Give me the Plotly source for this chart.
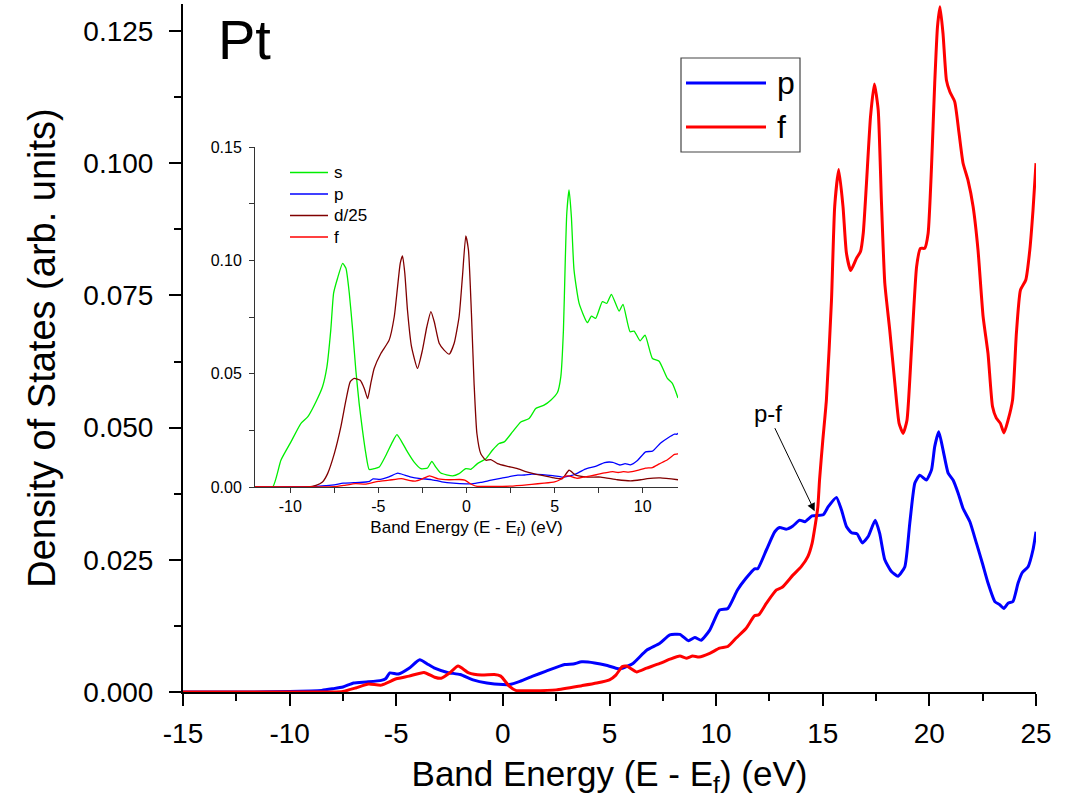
import plotly.graph_objects as go

# ---------------- data ----------------
# Pt partial densities of states, main panel (p and f)
energy_pf = [-15.0, -12.0, -10.0, -9.0, -8.5, -8.0, -7.5, -7.0, -6.4, -5.7, -5.5, -5.3, -4.9,
             -4.4, -3.9, -3.5, -3.2, -2.6, -2.0, -1.4, -0.75, 0.0, 0.3, 0.8, 1.4, 2.0, 2.9,
             3.3, 3.7, 4.3, 4.9, 5.4, 5.6, 6.1, 6.74, 7.36, 7.83, 8.3, 8.7, 9.0, 9.3, 9.7,
             10.16, 10.55, 11.0, 11.4, 11.8, 11.95, 12.36, 12.75, 12.98, 13.3, 13.6, 13.92,
             14.16, 14.5, 15.02, 15.25, 15.64, 15.88, 16.11, 16.35, 16.61, 16.86, 17.13,
             17.46, 17.67, 17.91, 18.22, 18.53, 18.85, 19.08, 19.32, 19.55, 19.86, 20.1,
             20.25, 20.44, 20.64, 20.88, 21.11, 21.35, 21.58, 21.9, 22.21, 22.49, 22.75,
             23.07, 23.3, 23.49, 23.69, 23.92, 24.16, 24.36, 24.63, 24.86, 25.0]
dos_p = [0.0, 0.0, 0.0001, 0.0002, 0.0003, 0.0006, 0.00095, 0.0017, 0.0019, 0.0022, 0.0025,
         0.0036, 0.0034, 0.0045, 0.0061, 0.0052, 0.0045, 0.0037, 0.0033, 0.0023, 0.0017,
         0.0014, 0.0014, 0.002, 0.003, 0.0039, 0.0052, 0.0053, 0.0057, 0.0055, 0.005,
         0.0044, 0.0045, 0.0054, 0.0079, 0.0092, 0.0108, 0.0109, 0.0097, 0.0103, 0.0098,
         0.0117, 0.0155, 0.0158, 0.0193, 0.0215, 0.0233, 0.0233, 0.0269, 0.0303, 0.0311,
         0.0308, 0.0314, 0.0325, 0.0322, 0.0333, 0.0335, 0.035, 0.0368, 0.0344, 0.0313,
         0.0301, 0.0299, 0.0282, 0.0294, 0.0325, 0.030, 0.025, 0.0228, 0.0219, 0.0237,
         0.0319, 0.0395, 0.041, 0.0401, 0.042, 0.0464, 0.0492, 0.0458, 0.0414, 0.0401,
         0.0376, 0.0347, 0.0322, 0.0281, 0.0243, 0.0206, 0.0171, 0.0165, 0.0158, 0.0168,
         0.0171, 0.0206, 0.0226, 0.0237, 0.0269, 0.0303]

energy_f = [-15.0, -10.0, -8.0, -7.5, -6.9, -6.3, -5.7, -5.0, -4.4, -3.7, -3.2, -2.9, -2.5,
            -2.1, -1.6, -1.0, -0.4, -0.1, 0.3, 0.6, 1.4, 2.5, 3.7, 4.4, 5.0, 5.3, 5.6, 5.8,
            6.27, 6.74, 7.36, 7.83, 8.3, 8.6, 8.9, 9.2, 9.7, 10.16, 10.55, 10.94, 11.4, 11.8,
            12.0, 12.36, 12.83, 13.1, 13.6, 13.99, 14.3, 14.5, 14.66, 14.77, 14.85, 15.0,
            15.17, 15.41, 15.56, 15.75, 15.95, 16.11, 16.31, 16.58, 16.77, 16.9, 17.05,
            17.24, 17.42, 17.6, 17.75, 17.91, 18.14, 18.38, 18.58, 18.77, 18.95, 19.16, 19.4,
            19.58, 19.78, 19.94, 20.1, 20.25, 20.38, 20.5, 20.64, 20.8, 20.96, 21.19, 21.39,
            21.58, 21.81, 22.05, 22.28, 22.52, 22.75, 22.96, 23.14, 23.33, 23.5, 23.69, 23.9,
            24.08, 24.27, 24.52, 24.71, 24.86, 25.0]
dos_f = [0.0, 0.0, 0.0, 0.0001, 0.00076, 0.0015, 0.0013, 0.0025, 0.003, 0.0037, 0.0028,
         0.0026, 0.0036, 0.0049, 0.0036, 0.0032, 0.0033, 0.003, 0.0011, 0.0003, 0.00025,
         0.0004, 0.0012, 0.0017, 0.0023, 0.0032, 0.0048, 0.0049, 0.0038, 0.0045, 0.0054,
         0.0062, 0.0068, 0.0064, 0.0068, 0.0066, 0.0073, 0.0083, 0.0086, 0.0102, 0.012,
         0.0144, 0.0146, 0.0168, 0.0193, 0.0198, 0.0221, 0.0237, 0.0256, 0.0281, 0.0319,
         0.035, 0.0401, 0.0475, 0.0552, 0.0741, 0.0918, 0.0988, 0.0918, 0.083, 0.0797,
         0.082, 0.0833, 0.0868, 0.0962, 0.1088, 0.115, 0.1101, 0.093, 0.0773, 0.0685,
         0.0584, 0.0508, 0.0489, 0.0514, 0.0647, 0.0804, 0.0839, 0.0839, 0.0867, 0.0993,
         0.1151, 0.1258, 0.1296, 0.1245, 0.1157, 0.1135, 0.1116, 0.1057, 0.1, 0.0968,
         0.0918, 0.0836, 0.071, 0.064, 0.054, 0.0518, 0.0508, 0.049, 0.0514, 0.0552,
         0.0678, 0.076, 0.0779, 0.0836, 0.0911, 0.1]

# inset: s and d/25 partial DOS
energy_s = [-12.0, -11.0, -10.53, -9.96, -9.4, -9.0, -8.54, -8.17, -7.92, -7.7, -7.54, -7.32,
            -7.03, -6.84, -6.65, -6.46, -6.28, -6.09, -5.9, -5.71, -5.52, -5.24, -4.95, -4.57,
            -4.2, -3.95, -3.72, -3.35, -2.97, -2.59, -2.21, -1.97, -1.74, -1.46, -0.79, -0.42,
            -0.04, 0.25, 0.62, 1.1, 1.47, 1.85, 2.14, 2.61, 3.08, 3.55, 3.93, 4.4, 4.78, 5.16,
            5.35, 5.5, 5.6, 5.69, 5.82, 5.95, 6.1, 6.39, 6.86, 7.09, 7.33, 7.71, 7.96, 8.22,
            8.66, 8.88, 9.28, 9.51, 9.85, 10.13, 10.55, 10.93, 11.4, 11.68, 12.0]
dos_s = [0.0, 0.0, 0.0118, 0.0199, 0.028, 0.031, 0.0376, 0.0442, 0.053, 0.0693, 0.0855,
         0.092, 0.0987, 0.0965, 0.0855, 0.0693, 0.0516, 0.0368, 0.025, 0.0147, 0.0077,
         0.0081, 0.0088, 0.014, 0.0199, 0.0231, 0.0206, 0.0155, 0.011, 0.0081, 0.0084,
         0.0113, 0.0088, 0.0062, 0.0049, 0.0059, 0.0081, 0.0078, 0.0103, 0.0125, 0.0162,
         0.0192, 0.0199, 0.0243, 0.0287, 0.0302, 0.0346, 0.0361, 0.0383, 0.0417, 0.0486,
         0.0693, 0.0987, 0.1208, 0.1311, 0.1193, 0.0958, 0.081, 0.0725, 0.0754, 0.0744,
         0.0818, 0.081, 0.085, 0.0776, 0.0806, 0.0685, 0.0688, 0.0645, 0.067, 0.0567,
         0.0555, 0.0479, 0.0457, 0.0393]

energy_d = [-12.0, -9.0, -8.54, -8.17, -7.88, -7.5, -7.13, -6.84, -6.6, -6.37, -6.03, -5.8,
            -5.61, -5.43, -5.24, -4.86, -4.39, -4.1, -3.91, -3.76, -3.63, -3.5, -3.35, -3.12,
            -2.78, -2.5, -2.25, -2.02, -1.83, -1.55, -1.27, -0.98, -0.7, -0.42, -0.23, -0.04,
            0.11, 0.28, 0.43, 0.59, 0.81, 1.1, 1.38, 1.76, 2.33, 2.89, 3.46, 4.22, 4.97, 5.44,
            5.82, 6.2, 6.86, 7.62, 8.56, 9.32, 9.89, 10.26, 11.0, 12.0]
dos_d_over_25 = [0.0, 0.0, 0.0007, 0.0022, 0.0059, 0.0147, 0.0265, 0.0383, 0.0464, 0.0479,
                 0.0471, 0.0435, 0.039, 0.0457, 0.0523, 0.0589, 0.0648, 0.0751, 0.0884,
                 0.0987, 0.102, 0.0943, 0.0781, 0.0619, 0.0523, 0.0604, 0.0707, 0.0774,
                 0.0729, 0.0634, 0.0604, 0.0586, 0.0634, 0.0751, 0.0928, 0.1108, 0.1046,
                 0.0766, 0.0457, 0.0236, 0.0147, 0.0118, 0.0121, 0.0103, 0.0091, 0.0081,
                 0.0066, 0.0052, 0.004, 0.0037, 0.0074, 0.0052, 0.0044, 0.0044, 0.0032,
                 0.0027, 0.0032, 0.0037, 0.004, 0.0032]

main_xticks = [-15, -10, -5, 0, 5, 10, 15, 20, 25]
main_xlabels = ["-15", "-10", "-5", "0", "5", "10", "15", "20", "25"]
main_yticks = [0.0, 0.025, 0.05, 0.075, 0.1, 0.125]
inset_xticks = [-10, -5, 0, 5, 10]
inset_xlabels = ["-10", "-5", "0", "5", "10"]
inset_yticks = [0.0, 0.05, 0.10, 0.15]

# ---------------- layout geometry (pixels) ----------------
W, H = 1076, 799
L, R, T, B = 183, 1036, 4, 692          # main plot area edges


def px(x):
    return (x - L) / (R - L)


def py(y):
    return (B - y) / (B - T)


FONT = "Liberation Sans, Arial, sans-serif"
BLUE, RED, GREEN, DARKRED = "#0000ff", "#ff0000", "#00ee00", "#800000"

fig = go.Figure()

# main panel
fig.add_trace(go.Scatter(x=energy_pf, y=dos_p, mode="lines", name="p",
                         line=dict(color=BLUE, width=3, shape="spline", smoothing=0.5),
                         showlegend=False))
fig.add_trace(go.Scatter(x=energy_f, y=dos_f, mode="lines", name="f",
                         line=dict(color=RED, width=3, shape="spline", smoothing=0.5),
                         showlegend=False))

# inset panel
for xs, ys, name, col in [(energy_s, dos_s, "s", GREEN),
                          (energy_pf, dos_p, "p", BLUE),
                          (energy_d, dos_d_over_25, "d/25", DARKRED),
                          (energy_f, dos_f, "f", RED)]:
    fig.add_trace(go.Scatter(x=xs, y=ys, mode="lines", name=name, xaxis="x2", yaxis="y2",
                             line=dict(color=col, width=1.3, shape="spline", smoothing=0.5),
                             showlegend=False))

axis_common = dict(showgrid=False, zeroline=False, showline=True, mirror=False,
                   ticks="outside", color="black", automargin=False)

fig.update_layout(
    width=W, height=H,
    margin=dict(l=L, r=W - R, t=T, b=H - B, autoexpand=False),
    paper_bgcolor="white", plot_bgcolor="white",
    font=dict(family=FONT, color="black"),
    xaxis=dict(**axis_common, range=[-15, 25], tickvals=main_xticks, ticktext=main_xlabels,
               linewidth=2, linecolor="black", ticklen=12, tickwidth=2,
               tickfont=dict(size=28), ticklabelstandoff=3,
               minor=dict(ticks="outside", ticklen=7, tickwidth=2, dtick=2.5, tick0=0),
               title=dict(text="Band Energy (E - E<sub>f</sub>) (eV)",
                          font=dict(size=35), standoff=14)),
    yaxis=dict(**axis_common, range=[0, (B - T) / 5288], tickvals=main_yticks,
               tickformat=".3f",
               linewidth=2, linecolor="black", ticklen=12, tickwidth=2,
               tickfont=dict(size=28), ticklabelstandoff=10,
               minor=dict(ticks="outside", ticklen=7, tickwidth=2, dtick=0.0125, tick0=0),
               title=dict(text="Density of States (arb. units)",
                          font=dict(size=38), standoff=16)),
    xaxis2=dict(**axis_common, domain=[px(255), px(678)], anchor="y2",
                range=[-12, 12], tickvals=inset_xticks, ticktext=inset_xlabels,
                linewidth=1, linecolor="#333333", ticklen=5, tickwidth=1, tickcolor="#333333",
                tickfont=dict(size=16),
                minor=dict(ticks="outside", ticklen=5, tickwidth=1, dtick=2.5, tick0=0,
                           tickcolor="#333333"),
                title=dict(text="Band Energy (E - E<sub>f</sub>) (eV)",
                           font=dict(size=17), standoff=6)),
    yaxis2=dict(**axis_common, domain=[py(487), py(147)], anchor="x2",
                range=[0, 0.15], tickvals=inset_yticks, tickformat=".2f",
                linewidth=1, linecolor="#333333", ticklen=5, tickwidth=1, tickcolor="#333333",
                tickfont=dict(size=16), ticklabelstandoff=4,
                minor=dict(ticks="outside", ticklen=5, tickwidth=1, dtick=0.025, tick0=0,
                           tickcolor="#333333")),
)

# element label
fig.add_annotation(text="Pt", xref="paper", yref="paper", x=px(216), y=py(6),
                   xanchor="left", yanchor="top", showarrow=False,
                   font=dict(size=56, family=FONT))

# crossing marker
fig.add_annotation(text="p-f", x=14.62, y=0.0342, xref="x", yref="y",
                   ax=-47, ay=-98, showarrow=True, arrowhead=2, arrowsize=1.6,
                   arrowwidth=1, arrowcolor="black", font=dict(size=24, family=FONT))

# main legend
fig.add_shape(type="rect", xref="paper", yref="paper", x0=px(681), x1=px(800),
              y0=py(152), y1=py(58), line=dict(color="#444444", width=1.2),
              fillcolor="white", layer="below")
for name, col, yy in [("p", BLUE, 83), ("f", RED, 127)]:
    fig.add_shape(type="line", xref="paper", yref="paper", x0=px(686), x1=px(766),
                  y0=py(yy), y1=py(yy), line=dict(color=col, width=3))
    fig.add_annotation(text=name, xref="paper", yref="paper", x=px(775), y=py(yy),
                       xanchor="left", yanchor="middle", showarrow=False,
                       font=dict(size=32, family=FONT))

# inset legend
fig.add_shape(type="rect", xref="paper", yref="paper", x0=px(287), x1=px(371),
              y0=py(250), y1=py(161), line=dict(color="#333333", width=1),
              fillcolor="white", layer="below")
for name, col, yy in [("s", GREEN, 172.5), ("p", BLUE, 194), ("d/25", DARKRED, 215.5),
                      ("f", RED, 237)]:
    fig.add_shape(type="line", xref="paper", yref="paper", x0=px(290), x1=px(328),
                  y0=py(yy), y1=py(yy), line=dict(color=col, width=1.3))
    fig.add_annotation(text=name, xref="paper", yref="paper", x=px(332), y=py(yy),
                       xanchor="left", yanchor="middle", showarrow=False,
                       font=dict(size=17, family=FONT))

fig.write_html("out.html")
